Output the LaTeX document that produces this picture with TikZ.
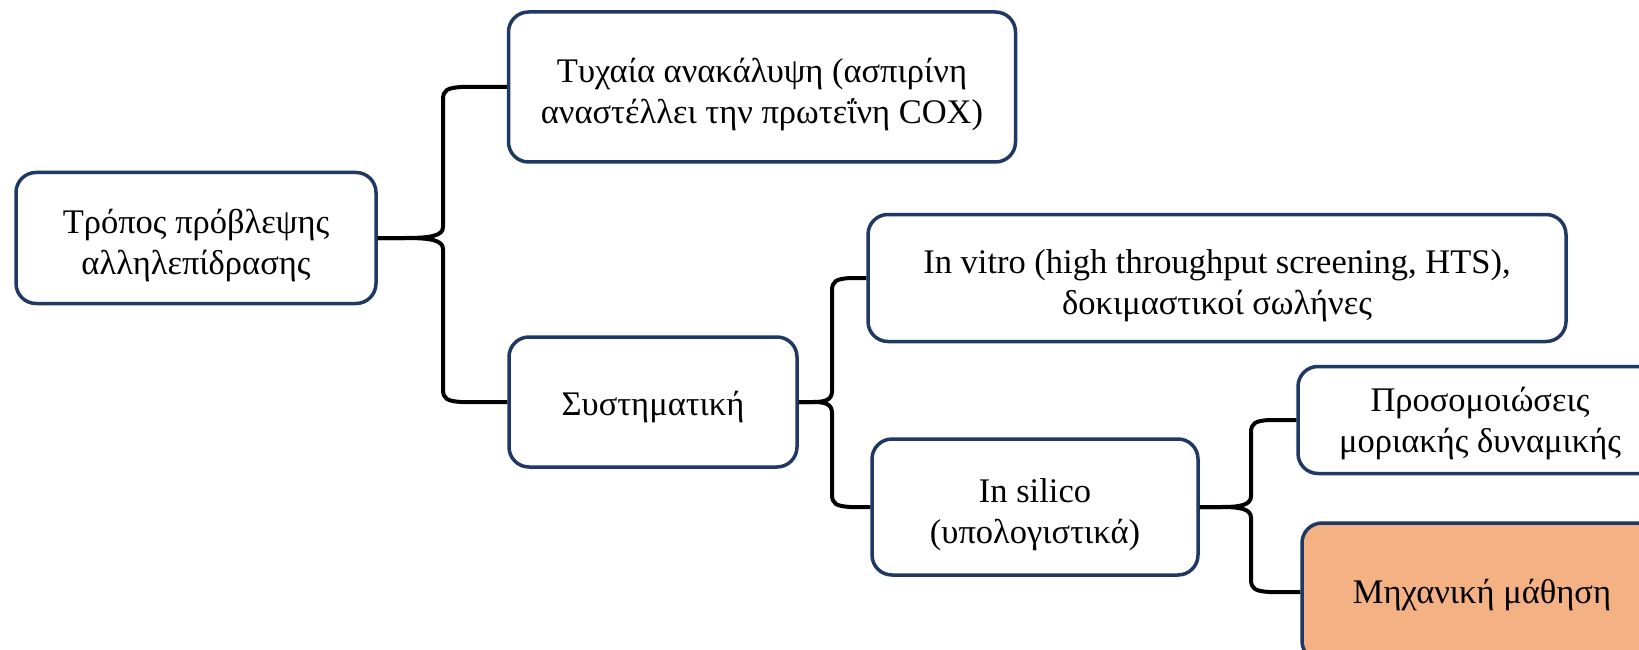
\documentclass[tikz,border=0pt]{standalone}
\usepackage{fontspec}
\usetikzlibrary{calc}
\setmainfont{Liberation Serif}
\definecolor{boxline}{HTML}{1F3864}
\definecolor{mlfill}{HTML}{F4B183}
\tikzset{
  box/.style={draw=boxline, line width=3.5pt, rounded corners=20pt, fill=white,
    inner sep=0pt, font=\fontsize{34.5}{41}\selectfont},
  link/.style={draw=black, line width=4pt, line join=round},
}
% centred lines of text, set a little below the middle of their box
\newcommand{\boxtext}[2][-8pt]{%
  \raisebox{#1}[\height][\depth]{\begin{tabular}{@{}c@{}}#2\end{tabular}}}
% one arm of a curly brace: parent #1 -> child #2 along a spine at x of #3;
% #4 is +1 for a child below the parent, -1 for a child above it
\newcommand{\bracearm}[4]{%
  \draw[link] (#1.east)
    -- ($(#1.east)!0.42!(#1.east -| #3)$)
    .. controls ($(#1.east)!0.8!(#1.east -| #3)$) and ($(#1.east -| #3)+(0,#4*2)$)
    .. ($(#1.east -| #3)+(0,#4*11)$)
    -- ($(#2.west -| #3)+(0,-#4*13)$)
    .. controls ($(#2.west -| #3)+(0,-#4*3)$) and ($(#2.west -| #3)+(4,-#4*1)$)
    .. ($(#2.west -| #3)+(18,0)$)
    -- (#2.west);
}
% a brace from one parent to its upper and lower child
\newcommand{\branchlink}[4]{%
  \bracearm{#1}{#2}{#4}{-1}
  \bracearm{#1}{#3}{#4}{1}
}
\begin{document}
\begin{tikzpicture}[x=1pt, y=-1pt]
  \useasboundingbox (0,0) rectangle (1639,650);
  \clip (0,0) rectangle (1639,650);

  \node[box, minimum width=360pt, minimum height=131pt] (root) at (196,238)
    {\boxtext{Τρόπος πρόβλεψης\\αλληλεπίδρασης}};
  \node[box, minimum width=507pt, minimum height=150pt] (chance) at (762,87)
    {\boxtext{Τυχαία ανακάλυψη (ασπιρίνη\\αναστέλλει την πρωτεΐνη COX)}};
  \node[box, minimum width=288pt, minimum height=130pt] (sys) at (653,402)
    {\boxtext[-5pt]{Συστηματική}};
  \node[box, minimum width=698pt, minimum height=127pt] (vitro) at (1217,278)
    {\boxtext{In vitro (high throughput screening, HTS),\\δοκιμαστικοί σωλήνες}};
  \node[box, minimum width=326pt, minimum height=136pt] (silico) at (1035,507)
    {\boxtext{In silico\\(υπολογιστικά)}};
  \node[box, minimum width=364pt, minimum height=107pt] (md) at (1480,420)
    {\boxtext[-4pt]{Προσομοιώσεις\\μοριακής δυναμικής}};
  \node[box, fill=mlfill, minimum width=360pt, minimum height=138pt] (ml) at (1482,592)
    {\boxtext[-3pt]{Μηχανική μάθηση}};

  \coordinate (spineA) at (443,0);
  \coordinate (spineB) at (832,0);
  \coordinate (spineC) at (1251,0);

  \branchlink{root}{chance}{sys}{spineA}
  \branchlink{sys}{vitro}{silico}{spineB}
  \branchlink{silico}{md}{ml}{spineC}
\end{tikzpicture}
\end{document}
